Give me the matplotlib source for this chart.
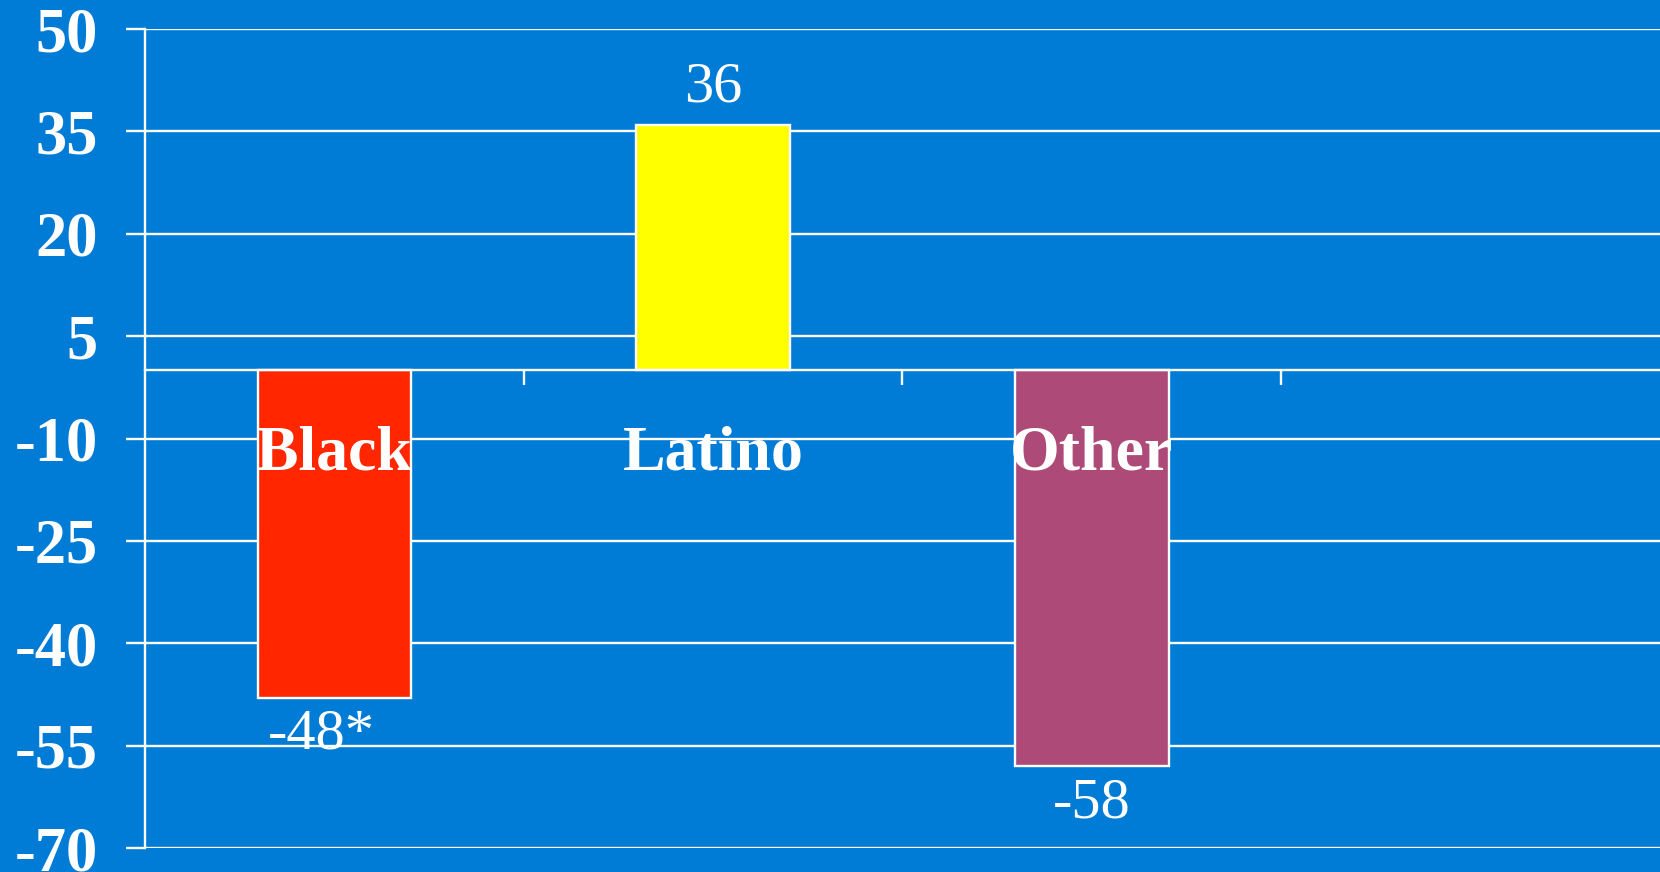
import matplotlib
matplotlib.use("Agg")
from matplotlib import pyplot as plt

groups = ["Black", "Latino", "Other", ""]
values = [-48, 36, -58]
value_text = ["-48*", "36", "-58"]
bar_colors = ["#FF2600", "#FFFF00", "#AD4A78"]
y_ticks = [50, 35, 20, 5, -10, -25, -40, -55, -70]

bg = "#017CD6"
serif = ["Liberation Serif", "DejaVu Serif"]

fig = plt.figure(figsize=(16.6, 8.72), dpi=100, facecolor=bg)
ax = fig.add_axes([0.0873, 0.0275, 0.9127, 0.9392])
ax.set_facecolor(bg)

ax.set_xlim(-0.5, len(groups) - 0.5)
ax.set_ylim(-70, 50)

# horizontal grid in white
for t in y_ticks:
    ax.axhline(t, color="white", lw=1.7, zorder=1)

xs = list(range(len(values)))
ax.bar(xs, values, width=0.405, color=bar_colors, edgecolor="white",
       linewidth=1.7, zorder=3)

# value labels beyond the bar ends
offsets = [(-9, -8), (0, 8), (0, -8)]
for x, v, s, off in zip(xs, values, value_text, offsets):
    va = "bottom" if v > 0 else "top"
    ax.annotate(s, (x, v), xytext=off, textcoords="offset points",
                ha="center", va=va, color="white", fontsize=42,
                family=serif, zorder=5)

# group names just below the zero line
for x, name in enumerate(groups):
    if name:
        ax.text(x, -12.3, name, ha="center", va="center", color="white",
                fontsize=46, fontweight="bold", family=serif, zorder=5)

ax.set_yticks(y_ticks)
ax.set_yticklabels([str(t) for t in y_ticks], color="white", fontsize=45,
                   fontweight="bold", family=serif)
ax.tick_params(axis="y", colors="white", length=14, width=1.7, pad=20)

ax.set_xticks([0.5, 1.5, 2.5])
ax.set_xticklabels([])
ax.tick_params(axis="x", colors="white", length=11, width=1.7, direction="out")

for side in ["top", "right"]:
    ax.spines[side].set_visible(False)
ax.spines["left"].set_color("white")
ax.spines["left"].set_linewidth(1.7)
ax.spines["bottom"].set_position(("data", 0))
ax.spines["bottom"].set_color("white")
ax.spines["bottom"].set_linewidth(1.7)
ax.spines["bottom"].set_zorder(4)

fig.savefig("out.png", dpi=100, facecolor=bg)
